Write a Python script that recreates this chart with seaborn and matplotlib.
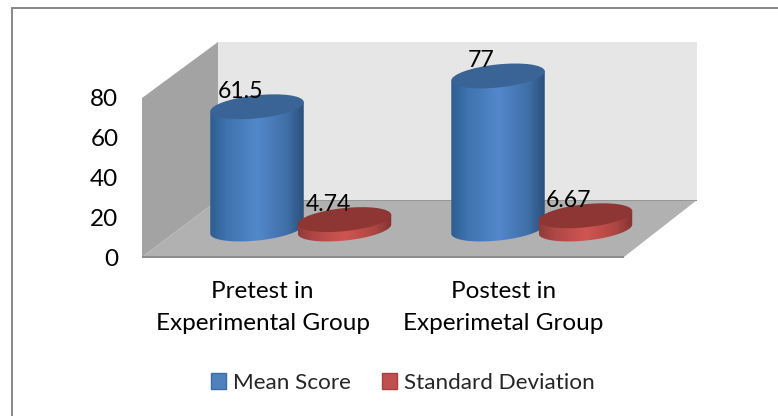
import numpy as np
import pandas as pd
import matplotlib
matplotlib.use('Agg')
import matplotlib.pyplot as plt
import seaborn as sns
from matplotlib.colors import LinearSegmentedColormap
from matplotlib.patches import Ellipse, PathPatch, Polygon, Rectangle
from matplotlib.path import Path
from matplotlib.transforms import IdentityTransform

# values
groups = ['Pretest in\nExperimental Group', 'Postest in\nExperimetal Group']
series = ['Mean Score', 'Standard Deviation']
mean_score = [61.5, 77]
std_dev = [4.74, 6.67]
y_ticks = [0, 20, 40, 60, 80]

W, H = 778, 416
BLUE = '#4F81BD'
RED = '#C0504D'

df = pd.DataFrame({
    'group': groups * 2,
    'series': [series[0]] * 2 + [series[1]] * 2,
    'value': mean_score + std_dev,
})

sns.set_theme(style='white')
plt.rcParams['font.family'] = ['Lato', 'DejaVu Sans']


def fx(x):
    return x / W


def fy(y):
    return 1 - y / H


fig = plt.figure(figsize=(W / 100, H / 100), dpi=100, facecolor='white')

# front plane of the 3D box, the bars get pushed back from it
ax = fig.add_axes([fx(142), fy(257), fx(624) - fx(142), (257 - 98) / H])
ax.patch.set_alpha(0)


def wall(points, color, z=-5):
    fig.add_artist(Polygon([(fx(x), fy(y)) for x, y in points], closed=True, facecolor=color,
                           edgecolor='none', transform=fig.transFigure, zorder=z))


# chart border, only its top and left sides are inside the picture
wall([(11, 6.5), (778, 6.5), (778, 8.5), (11, 8.5)], '#8A8A8A')
wall([(11, 6.5), (13, 6.5), (13, 416), (11, 416)], '#8A8A8A')
wall([(218, 42), (697, 42), (697, 200), (218, 200)], '#E6E6E6')
wall([(142, 98), (218, 42), (218, 200), (142, 257)], '#A3A3A3')
wall([(142, 257), (218, 200), (697, 200), (624, 257)], '#B1B1B1')
wall([(142, 256), (624, 256), (624, 258), (142, 258)], '#8C8C8C')
wall([(218, 199.5), (697, 199.5), (697, 200.5), (218, 200.5)], '#969696')

sns.barplot(data=df, x='group', y='value', hue='series', palette=[BLUE, RED], width=0.726,
            saturation=1, legend=False, ax=ax)
ax.set_xlim(-0.5, 1.5)
ax.set_ylim(0, 80)
ax.set_xlabel('')
ax.set_ylabel('')
ax.set_yticks(y_ticks)
sns.despine(ax=ax, left=True, bottom=True)
ax.tick_params(axis='y', length=0, pad=17, labelsize=17.5, labelcolor='black')
ax.tick_params(axis='x', length=0, pad=17, labelsize=17.5, labelcolor='black')
for lab in ax.get_xticklabels():
    lab.set_linespacing(1.65)

DX, DY = 38.25, 28   # depth shift in pixels
RX_EXTRA = 3.25      # bars overlap a bit in the original
RY = 11.5
TILT = 6

body_cmaps = {
    BLUE: LinearSegmentedColormap.from_list('b', [(0, '#2F5D92'), (0.18, '#3F73AF'), (0.5, '#5288CC'),
                                                  (0.82, '#406FA8'), (1, '#2B4F7C')]),
    RED: LinearSegmentedColormap.from_list('r', [(0, '#8F3B39'), (0.18, '#B04846'), (0.5, '#CF5552'),
                                                 (0.82, '#AC4643'), (1, '#833331')]),
}
top_colors = {BLUE: '#3A6495', RED: '#8D3633'}

fig.canvas.draw()
trans = ax.transData
bars = [b for b in ax.patches]
display = IdentityTransform()
grad = np.linspace(0, 1, 256).reshape(1, -1)
hue_colors = [BLUE, BLUE, RED, RED]
draw_order = [0, 2, 1, 3]
z = 3

for i in draw_order:
    bar, col = bars[i], hue_colors[i]
    xmid = bar.get_x() + bar.get_width() / 2
    h = bar.get_height()
    cx, y0 = trans.transform((xmid, 0))
    y1 = trans.transform((xmid, h))[1]
    half = abs(trans.transform((bar.get_x(), 0))[0] - cx) + RX_EXTRA
    cx += DX
    y0 += DY
    y1 += DY
    bar.set_visible(False)

    # body: outline made from the two tilted ellipses, filled with a sideways gradient
    t = np.radians(np.linspace(180, 360, 60))
    a = np.radians(TILT)
    ex = half * np.cos(t)
    ey = RY * np.sin(t)
    lower_x = cx + ex * np.cos(a) - ey * np.sin(a)
    lower_y = y0 + ex * np.sin(a) + ey * np.cos(a)
    upper_x = cx + half * np.cos(t[::-1]) * np.cos(a)
    upper_y = y1 + half * np.cos(t[::-1]) * np.sin(a)
    pts = np.column_stack([np.r_[lower_x, upper_x], np.r_[lower_y, upper_y]])
    outline = Path(np.vstack([pts, pts[0]]), closed=True)
    clip = PathPatch(outline, transform=display, facecolor='none', edgecolor='none')
    ax.add_patch(clip)
    clip.set_clip_on(False)
    xl, xr = pts[:, 0].min(), pts[:, 0].max()
    img = ax.imshow(grad, cmap=body_cmaps[col], aspect='auto',
                    extent=(xl, xr, pts[:, 1].min() - 1, pts[:, 1].max() + 1),
                    transform=display, zorder=z, interpolation='bilinear')
    img.set_clip_box(fig.bbox)
    img.set_clip_path(clip)
    ax.add_patch(Ellipse((cx, y1), 2 * half, 2 * RY, angle=TILT, facecolor=top_colors[col],
                         edgecolor='none', transform=display, zorder=z + 0.1, clip_on=False))
    z += 1
    ax.annotate(f'{h:g}', xy=(xmid, h), xycoords='data',
                xytext=((DX - 16.5) * 0.72, (DY + 15.5) * 0.72), textcoords='offset points',
                ha='center', va='center', fontsize=16.6, color='black', zorder=20, annotation_clip=False)

ax.set_xlim(-0.5, 1.5)
ax.set_ylim(0, 80)

handles = [Rectangle((0, 0), 1, 1, facecolor=BLUE, edgecolor='#3B6CA5'),
           Rectangle((0, 0), 1, 1, facecolor=RED, edgecolor='#A34240')]
fig.legend(handles, series, loc='center', bbox_to_anchor=(fx(403), fy(383)), ncol=2, frameon=False,
           fontsize=16.2, handlelength=0.67, handleheight=0.67, handletextpad=0.3, columnspacing=1.4)

fig.savefig('out.png', dpi=100)
